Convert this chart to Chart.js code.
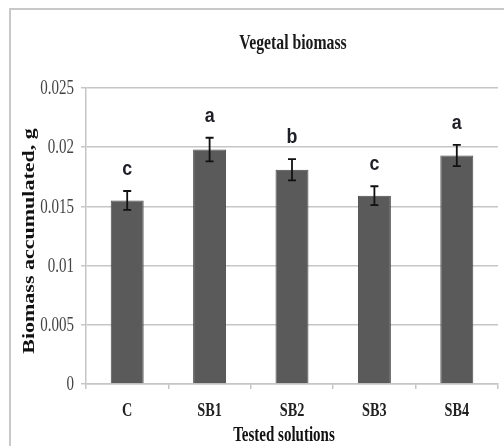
<!DOCTYPE html>
<html><head><meta charset="utf-8">
<script src="https://cdn.jsdelivr.net/npm/chart.js@4"></script>
<style>
html,body{margin:0;padding:0;background:#fff;overflow:hidden;}
#wrap{position:relative;width:504px;height:446px;overflow:hidden;}
#frame{position:absolute;left:9px;top:8px;width:510px;height:460px;border:2px solid #c8c8c8;box-sizing:border-box;}
canvas{position:absolute;left:0;top:0;}
</style></head>
<body><div id="wrap"><div id="frame"></div><canvas id="c" width="504" height="446"></canvas></div>
<script>
const categories = ["C","SB1","SB2","SB3","SB4"];
const biomass = [0.0155, 0.0198, 0.0181, 0.0159, 0.0193];
const errors = [0.0008, 0.0010, 0.0009, 0.0008, 0.0009];
const letters = ["c","a","b","c","a"];
const yTicks = [0, 0.005, 0.01, 0.015, 0.02, 0.025];
const yTickLabels = ["0","0.005","0.01","0.015","0.02","0.025"];
const chartTitle = "Vegetal biomass";
const xTitle = "Tested solutions";
const yTitle = "Biomass accumulated, g";

const serif = "'Liberation Serif','Times New Roman',serif";
const SQ = 0.75; // horizontal squeeze of the original picture

function hText(ctx, text, x, y, font, color, align, baseline, sq){
  ctx.save();
  ctx.translate(x, y); ctx.scale(sq || SQ, 1);
  ctx.font = font; ctx.fillStyle = color;
  ctx.textAlign = align; ctx.textBaseline = baseline;
  ctx.fillText(text, 0, 0);
  ctx.restore();
}

const textPlugin = {
  id:'texts',
  afterDraw(chart){
    const ctx = chart.ctx, y = chart.scales.y, x = chart.scales.x, ca = chart.chartArea;
    hText(ctx, chartTitle, (ca.left+ca.right)/2 + 1, 44, "bold 21px "+serif, '#1a1a1a', 'center', 'middle');
    yTicks.forEach((v,i)=>{
      hText(ctx, yTickLabels[i], ca.left - 12, y.getPixelForValue(v) + 1, "20px "+serif, '#444', 'right', 'middle');
    });
    categories.forEach((c,i)=>{
      hText(ctx, c, x.getPixelForValue(i), 411, "bold 19px "+serif, '#222', 'center', 'middle');
    });
    hText(ctx, xTitle, (ca.left+ca.right)/2 - 8, 436, "bold 20px "+serif, '#111', 'center', 'middle');
    ctx.save();
    ctx.translate(34, (ca.top+ca.bottom)/2 + 5);
    ctx.rotate(-Math.PI/2);
    ctx.scale(1, SQ);
    ctx.font = "bold 22px "+serif; ctx.fillStyle = '#111';
    ctx.textAlign = 'center'; ctx.textBaseline = 'alphabetic';
    ctx.fillText(yTitle, 0, 0);
    ctx.restore();
  },
  afterDatasetsDraw(chart){
    const ctx = chart.ctx, y = chart.scales.y;
    const meta = chart.getDatasetMeta(0);
    ctx.save();
    ctx.strokeStyle = '#111'; ctx.lineWidth = 1.8;
    meta.data.forEach((bar,i)=>{
      const bx = bar.x;
      const t = y.getPixelForValue(biomass[i]+errors[i]);
      const b = y.getPixelForValue(biomass[i]-errors[i]);
      ctx.beginPath();
      ctx.moveTo(bx,t); ctx.lineTo(bx,b);
      ctx.moveTo(bx-4,t); ctx.lineTo(bx+4,t);
      ctx.moveTo(bx-4,b); ctx.lineTo(bx+4,b);
      ctx.stroke();
      hText(ctx, letters[i], bx, t - 16, "bold 21px 'Liberation Sans','DejaVu Sans',sans-serif", '#1f1f28', 'center', 'alphabetic', 0.85);
    });
    ctx.restore();
  }
};

new Chart(document.getElementById('c'), {
  type:'bar',
  data:{labels:categories, datasets:[{data:biomass, backgroundColor:'#5a5a5a', borderColor:'#4a4a4a', borderWidth:1, barPercentage:0.4, categoryPercentage:1}]},
  options:{
    responsive:false, animation:false,
    layout:{padding:{left:0, right:6, top:88, bottom:0}},
    plugins:{ legend:{display:false}, tooltip:{enabled:false}, title:{display:false} },
    scales:{
      y:{
        min:0, max:0.025,
        afterBuildTicks(s){ s.ticks = yTicks.map(v=>({value:v})); },
        afterFit(s){ s.width = 86; },
        grid:{color:'#c6c6c6', lineWidth:1.5, tickLength:5, drawTicks:true},
        border:{color:'#c6c6c6', width:1.5},
        ticks:{display:false}
      },
      x:{
        afterFit(s){ s.height = 62; },
        grid:{display:true, drawOnChartArea:false, offset:true, color:'#c6c6c6', lineWidth:1.5, tickLength:5},
        border:{color:'#c6c6c6', width:1.5},
        ticks:{display:false}
      }
    }
  },
  plugins:[textPlugin]
});
</script></body></html>
